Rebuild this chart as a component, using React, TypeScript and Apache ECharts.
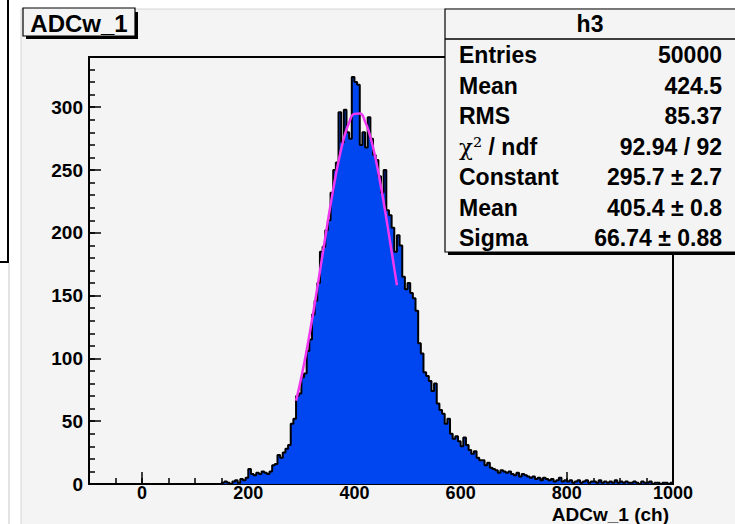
import React, { useEffect, useRef } from 'react';
import * as echarts from 'echarts';

// ---- data ----
const binStart = 150;
const binWidth = 5;
const counts = [
  1, 2, 1, 0, 2, 3, 1, 4, 3, 5,
  12, 8, 7, 9, 8, 10, 9, 8, 10, 15,
  16, 23, 21, 25, 28, 31, 48, 52, 70, 72,
  85, 88, 106, 115, 135, 146, 160, 185, 189, 202,
  210, 232, 250, 256, 296, 272, 298, 280, 275, 324,
  320, 318, 270, 280, 268, 292, 275, 262, 258, 245,
  232, 250, 218, 214, 204, 185, 198, 190, 165, 155,
  160, 152, 148, 138, 112, 104, 89, 86, 82, 74,
  80, 64, 59, 56, 48, 52, 40, 36, 38, 34,
  30, 37, 31, 27, 24, 26, 21, 19, 19, 15,
  17, 13, 12, 11, 9, 11, 10, 9, 10, 8,
  7, 9, 6, 8, 7, 6, 5, 6, 4, 5,
  3, 5, 4, 3, 4, 2, 3, 5, 2, 3,
  2, 3, 1, 2, 3, 1, 2, 3, 1, 2,
  2, 1, 3, 1, 2, 1, 2, 1, 3, 1,
  2, 1, 2, 1, 1, 2, 1, 0, 2, 1,
  1, 2, 0, 1, 1, 0, 1, 1, 0, 1,
];
const fitX = [290, 300, 310, 320, 330, 340, 350, 360, 370, 380, 390, 400, 410, 420, 430, 440, 450, 460, 470, 480];
const fitY = [66.3, 85.0, 106.5, 130.4, 156.2, 182.9, 209.5, 234.6, 256.9, 275.1, 287.9, 294.7, 295.0, 288.7, 276.3, 258.5, 236.5, 211.6, 185.1, 158.3];
const xTicks = [0, 200, 400, 600, 800, 1000];
const yTicks = [0, 50, 100, 150, 200, 250, 300];
const xRange = [-100, 1000];
const yRange = [0, 340];
const histTitle = 'ADCw_1';
const xAxisTitle = 'ADCw_1 (ch)';
const statsTitle = 'h3';
const statsLabels = ['Entries', 'Mean', 'RMS', 'χ² / ndf', 'Constant', 'Mean', 'Sigma'];
const statsValues = ['50000', '424.5', '85.37', '92.94 / 92', '295.7 ± 2.7', '405.4 ± 0.8', '66.74 ± 0.88'];

const FONT = '"Liberation Sans", Arial, sans-serif';

export default function App() {
  const ref = useRef<HTMLDivElement>(null);
  useEffect(() => {
    document.body.style.margin = '0';
    const chart = echarts.init(ref.current!, null, { renderer: 'svg' });

    const histPoints: number[][] = [[binStart, 0]];
    counts.forEach((c, i) => histPoints.push([binStart + i * binWidth, c]));
    histPoints.push([binStart + counts.length * binWidth, 0]);
    const fitPoints = fitX.map((x, i) => [x, fitY[i]]);

    const graphics: any[] = [
      // pad background
      { type: 'rect', z: -10, shape: { x: 21, y: 9, width: 720, height: 520 }, style: { fill: '#f4f4f4', stroke: '#d4d4d4', lineWidth: 1 } },
      // neighbouring pad edge on the left
      { type: 'line', z: 100, shape: { x1: 8, y1: 0, x2: 8, y2: 263 }, style: { stroke: '#000', lineWidth: 2 } },
      { type: 'line', z: 100, shape: { x1: 0, y1: 262, x2: 9, y2: 262 }, style: { stroke: '#000', lineWidth: 2 } },
      { type: 'line', z: 100, shape: { x1: 9, y1: 263, x2: 9, y2: 524 }, style: { stroke: '#c8c8c8', lineWidth: 1 } },
      // title box
      { type: 'rect', z: 100, shape: { x: 26, y: 12, width: 112, height: 27 }, style: { fill: '#000' } },
      { type: 'rect', z: 101, shape: { x: 23, y: 8, width: 112, height: 28 }, style: { fill: '#f4f4f4', stroke: '#000', lineWidth: 1.2 } },
      { type: 'text', z: 102, x: 79, y: 23, style: { text: histTitle, font: `bold 24px ${FONT}`, fill: '#000', textAlign: 'center', textVerticalAlign: 'middle' } },
      // stats box
      { type: 'rect', z: 100, shape: { x: 448, y: 12, width: 300, height: 243 }, style: { fill: '#000' } },
      { type: 'rect', z: 101, shape: { x: 445, y: 9, width: 300, height: 243 }, style: { fill: '#f4f4f4', stroke: '#000', lineWidth: 1.2 } },
      { type: 'line', z: 102, shape: { x1: 445, y1: 39, x2: 735, y2: 39 }, style: { stroke: '#000', lineWidth: 1.5 } },
      { type: 'text', z: 102, x: 590, y: 24, style: { text: statsTitle, font: `bold 23px ${FONT}`, fill: '#000', textAlign: 'center', textVerticalAlign: 'middle' } },
      // x axis title
      { type: 'text', z: 102, x: 669, y: 514, style: { text: xAxisTitle, font: `bold 19px ${FONT}`, fill: '#000', textAlign: 'right', textVerticalAlign: 'middle' } },
    ];
    statsLabels.forEach((lab, i) => {
      const y = 55 + i * 30.5;
      const isChi = lab.startsWith('χ');
      graphics.push({
        type: 'text', z: 102, x: 459, y,
        style: isChi
          ? {
              text: `{g|${lab.slice(0, 2)}}{b|${lab.slice(2)}}`,
              rich: {
                g: { font: `23px "DejaVu Serif", serif`, fill: '#000' },
                b: { font: `bold 23px ${FONT}`, fill: '#000' },
              },
              textAlign: 'left', textVerticalAlign: 'middle',
            }
          : { text: lab, font: `bold 23px ${FONT}`, fill: '#000', textAlign: 'left', textVerticalAlign: 'middle' },
      });
      graphics.push({
        type: 'text', z: 102, x: 722, y,
        style: { text: statsValues[i], font: `bold 23px ${FONT}`, fill: '#000', textAlign: 'right', textVerticalAlign: 'middle' },
      });
    });

    const plain = (v: number) => String(v);

    const option: any = {
      animation: false,
      backgroundColor: 'transparent',
      grid: { left: 89, right: 62, top: 57, bottom: 40, show: true, borderColor: '#000', borderWidth: 2, backgroundColor: 'transparent' },
      xAxis: [
        {
          type: 'value', min: xRange[0], max: xRange[1],
          axisLine: { show: true, onZero: false, lineStyle: { color: '#000', width: 2 } },
          axisTick: { show: true, inside: true, length: 12, customValues: xTicks, lineStyle: { color: '#000', width: 1.5 } },
          axisLabel: { show: true, customValues: xTicks, formatter: plain, margin: 0, color: '#000', fontWeight: 'bold', fontSize: 18, fontFamily: FONT },
          splitLine: { show: false },
        },
        {
          type: 'value', min: xRange[0], max: xRange[1], interval: 50, position: 'bottom',
          axisLine: { show: false, onZero: false },
          axisTick: { show: true, inside: true, length: 6, lineStyle: { color: '#000', width: 1.5 } },
          axisLabel: { show: false },
          splitLine: { show: false },
        },
      ],
      yAxis: [
        {
          type: 'value', min: yRange[0], max: yRange[1],
          axisLine: { show: true, onZero: false, lineStyle: { color: '#000', width: 2 } },
          axisTick: { show: true, inside: true, length: 12, customValues: yTicks, lineStyle: { color: '#000', width: 1.5 } },
          axisLabel: { show: true, customValues: yTicks, formatter: plain, margin: 6, color: '#000', fontWeight: 'bold', fontSize: 19, fontFamily: FONT },
          splitLine: { show: false },
        },
        {
          type: 'value', min: yRange[0], max: yRange[1], interval: 10, position: 'left',
          axisLine: { show: false, onZero: false },
          axisTick: { show: true, inside: true, length: 6, lineStyle: { color: '#000', width: 1.5 } },
          axisLabel: { show: false },
          splitLine: { show: false },
        },
      ],
      series: [
        {
          type: 'line', xAxisIndex: 0, yAxisIndex: 0, step: 'end', data: histPoints,
          symbol: 'none', silent: true, z: 3,
          lineStyle: { color: '#000', width: 2 },
          areaStyle: { color: '#0046f0', opacity: 1 },
        },
        {
          type: 'line', xAxisIndex: 0, yAxisIndex: 0, data: fitPoints, smooth: true,
          symbol: 'none', silent: true, z: 4,
          lineStyle: { color: '#f038f0', width: 2.5 },
        },
      ],
      graphic: graphics,
    };
    chart.setOption(option);
    return () => chart.dispose();
  }, []);
  return <div ref={ref} style={{ width: 735, height: 524, background: '#fff' }} />;
}
